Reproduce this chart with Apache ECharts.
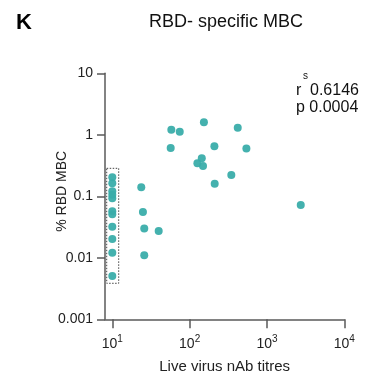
<!DOCTYPE html>
<html>
<head>
<meta charset="utf-8">
<script src="https://cdn.jsdelivr.net/npm/echarts@6/dist/echarts.min.js"></script>
<style>html,body{margin:0;padding:0;background:#fff;}#c{width:366px;height:376px;}</style>
</head>
<body>
<div id="c"></div>
<script>
// Live virus nAb titres (x) and % RBD MBC (y)
const titres = [10,10,10,10,10,10,10,10,10,10,10,
  23.7,24.9,25.9,39.8,25.9,
  58,74.5,153,419,56.9,209,542,143.6,126,149,346,211,2735];
const mbc = [0.204,0.163,0.121,0.106,0.093,0.057,0.051,0.032,0.0202,0.0121,0.00506,
  0.140,0.0556,0.030,0.0273,0.011,
  1.21,1.12,1.60,1.30,0.61,0.65,0.60,0.415,0.344,0.311,0.222,0.160,0.0723];
const xTicks = [10,100,1000,10000];
const yTicks = [0.001,0.01,0.1,1,10];
const boxX = [8.47, 12.1];
const boxY = [0.00385, 0.285];

const font = 'Liberation Sans, Arial, sans-serif';
const axisCol = '#5a5a5a';
const chart = echarts.init(document.getElementById('c'), null, {renderer:'canvas'});
const pts = titres.map((t,i)=>[t, mbc[i]]);
chart.setOption({
  animation:false,
  grid:{left:105, right:21.7, top:73.3, bottom:56.7, outerBoundsMode:'none', containLabel:false},
  xAxis:{
    type:'log', logBase:10, min:8.05, max:10000,
    name:'Live virus nAb titres', nameLocation:'middle', nameGap:40, nameMoveOverlap:false,
    nameTextStyle:{fontFamily:font, fontSize:15, color:'#222'},
    axisLine:{show:true, lineStyle:{color:axisCol, width:1.5}},
    axisTick:{show:true, length:9, inside:false, customValues:xTicks, lineStyle:{color:axisCol, width:1.5}},
    axisLabel:{customValues:xTicks, margin:15, fontFamily:font, fontSize:14, color:'#222',
      formatter:function(v){const e=Math.round(Math.log10(v)); return '10{s|'+e+'}';},
      rich:{s:{fontSize:10, fontFamily:font, color:'#222', verticalAlign:'top', padding:[0,0,9,0]}}},
    splitLine:{show:false}
  },
  yAxis:{
    type:'log', logBase:10, min:0.001, max:10,
    name:'% RBD MBC', nameLocation:'middle', nameGap:36, nameRotate:90, nameMoveOverlap:false,
    nameTextStyle:{fontFamily:font, fontSize:14, color:'#222', padding:[0,0,0,10]},
    axisLine:{show:true, lineStyle:{color:axisCol, width:1.5}},
    axisTick:{show:true, length:8, customValues:yTicks, lineStyle:{color:axisCol, width:1.5}},
    axisLabel:{customValues:yTicks, margin:12, fontFamily:font, fontSize:14, color:'#222',
      formatter:function(v){return String(+v.toPrecision(3));}},
    splitLine:{show:false}
  },
  series:[{
    type:'scatter', data:pts, symbolSize:8,
    itemStyle:{color:'#3aadaa', opacity:0.95},
    markArea:{silent:true,
      itemStyle:{color:'rgba(0,0,0,0)', borderColor:'#444', borderWidth:1, borderType:[1.5,1.5]},
      data:[[{coord:[boxX[0], boxY[1]]},{coord:[boxX[1], boxY[0]]}]]}
  }],
  graphic:[
    {type:'text', x:16, y:23, style:{text:'K', font:'bold 22px '+font, fill:'#000', verticalAlign:'middle'}},
    {type:'text', x:226, y:22, style:{text:'RBD- specific MBC', font:'18px '+font, fill:'#111', align:'center', verticalAlign:'middle'}},
    {type:'text', x:296, y:91, style:{text:'r', font:'16px '+font, fill:'#111', verticalAlign:'middle'}},
    {type:'text', x:303, y:76, style:{text:'s', font:'10px '+font, fill:'#111', verticalAlign:'middle'}},
    {type:'text', x:310, y:91, style:{text:'0.6146', font:'16px '+font, fill:'#111', verticalAlign:'middle'}},
    {type:'text', x:296, y:108, style:{text:'p 0.0004', font:'16px '+font, fill:'#111', verticalAlign:'middle'}}
  ]
});
</script>
</body>
</html>
